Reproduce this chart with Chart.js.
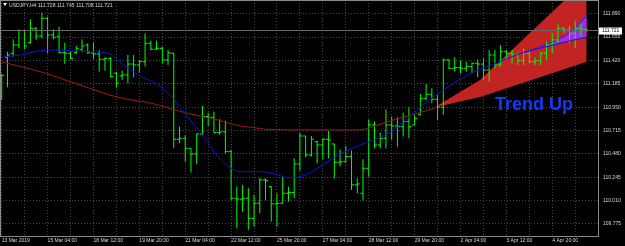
<!DOCTYPE html>
<html>
<head>
<meta charset="utf-8">
<script src="https://cdn.jsdelivr.net/npm/chart.js@4.4.1/dist/chart.umd.min.js"></script>
<style>
  html, body { margin: 0; padding: 0; background: #000; overflow: hidden; }
  canvas { display: block; }
</style>
</head>
<body>
<canvas id="chart" width="625" height="246"></canvas>
<script>
const symbol = 'USDJPY,H4';

const open = [111.056, 111.451, 111.492, 111.575, 111.720, 111.599, 111.743, 111.666, 111.844, 111.676,
  111.659, 111.498, 111.492, 111.498, 111.532, 111.575, 111.492, 111.485, 111.431, 111.441,
  111.291, 111.264, 111.274, 111.384, 111.374, 111.408, 111.592, 111.532, 111.542, 111.425,
  111.492, 110.627, 110.637, 110.536, 110.479, 110.680, 110.855, 110.848, 110.694, 110.701,
  110.503, 110.034, 110.024, 110.034, 109.832, 109.983, 110.218, 110.151, 109.977, 109.983,
  110.084, 110.091, 110.379, 110.660, 110.469, 110.603, 110.570, 110.627, 110.580, 110.396,
  110.402, 110.453, 110.168, 110.084, 110.335, 110.771, 110.570, 110.637, 110.771, 110.761,
  110.754, 110.805, 110.771, 110.872, 111.039, 111.079, 111.029, 110.949, 111.425, 111.341,
  111.348, 111.341, 111.358, 111.391, 111.384, 111.324, 111.475, 111.374, 111.508, 111.492,
  111.475, 111.418, 111.492, 111.408, 111.418, 111.492, 111.575, 111.626, 111.743, 111.726,
  111.693, 111.743, 111.728];
const high = [111.284, 111.508, 111.632, 111.733, 111.733, 111.834, 111.753, 111.901, 111.860, 111.733,
  111.760, 111.599, 111.508, 111.565, 111.632, 111.592, 111.599, 111.525, 111.451, 111.451,
  111.307, 111.317, 111.475, 111.475, 111.425, 111.693, 111.619, 111.619, 111.559, 111.525,
  111.498, 110.754, 110.670, 110.536, 110.687, 110.962, 110.895, 110.905, 110.828, 110.815,
  110.520, 110.151, 110.168, 110.134, 110.067, 110.235, 110.235, 110.151, 110.084, 110.251,
  110.151, 110.436, 110.694, 110.660, 110.660, 110.613, 110.637, 110.711, 110.580, 110.526,
  110.560, 110.513, 110.235, 110.426, 110.828, 110.805, 110.694, 110.929, 110.855, 110.848,
  110.895, 110.949, 110.872, 111.083, 111.183, 111.140, 111.073, 111.441, 111.431, 111.451,
  111.418, 111.408, 111.398, 111.431, 111.441, 111.525, 111.525, 111.575, 111.525, 111.525,
  111.498, 111.542, 111.525, 111.451, 111.508, 111.609, 111.693, 111.793, 111.753, 111.767,
  111.820, 111.793, 111.745];
const low = [111.022, 111.150, 111.458, 111.542, 111.532, 111.592, 111.626, 111.643, 111.492, 111.632,
  111.492, 111.384, 111.431, 111.485, 111.508, 111.485, 111.431, 111.307, 111.317, 111.250,
  111.150, 111.224, 111.190, 111.250, 111.297, 111.358, 111.525, 111.525, 111.391, 111.374,
  110.536, 110.587, 110.402, 110.292, 110.379, 110.670, 110.761, 110.694, 110.670, 110.479,
  110.017, 109.732, 109.899, 109.715, 109.749, 109.883, 110.017, 109.799, 109.749, 109.983,
  110.000, 110.034, 110.312, 110.446, 110.453, 110.386, 110.426, 110.436, 110.235, 110.352,
  110.392, 110.117, 110.084, 110.017, 110.251, 110.536, 110.536, 110.536, 110.620, 110.553,
  110.654, 110.637, 110.771, 110.872, 111.022, 110.989, 110.821, 110.872, 111.331, 111.307,
  111.291, 111.307, 111.291, 111.250, 111.224, 111.207, 111.341, 111.358, 111.425, 111.391,
  111.374, 111.374, 111.391, 111.374, 111.374, 111.425, 111.492, 111.592, 111.693, 111.592,
  111.542, 111.659, 111.708];
const close = [111.270, 111.475, 111.575, 111.720, 111.565, 111.743, 111.666, 111.844, 111.676, 111.653,
  111.498, 111.492, 111.441, 111.542, 111.565, 111.498, 111.485, 111.431, 111.441, 111.257,
  111.190, 111.274, 111.384, 111.374, 111.408, 111.592, 111.532, 111.542, 111.425, 111.498,
  110.627, 110.637, 110.536, 110.479, 110.680, 110.855, 110.848, 110.694, 110.701, 110.503,
  110.034, 110.024, 110.034, 109.832, 109.983, 110.218, 110.211, 109.977, 109.983, 110.084,
  110.091, 110.379, 110.660, 110.469, 110.627, 110.570, 110.627, 110.620, 110.396, 110.402,
  110.453, 110.168, 110.178, 110.335, 110.771, 110.570, 110.637, 110.771, 110.761, 110.754,
  110.805, 110.754, 110.838, 111.039, 111.079, 111.029, 110.949, 111.425, 111.341, 111.348,
  111.341, 111.358, 111.391, 111.384, 111.324, 111.475, 111.374, 111.508, 111.492, 111.475,
  111.418, 111.492, 111.408, 111.418, 111.492, 111.575, 111.626, 111.743, 111.726, 111.693,
  111.743, 111.733, 111.721];

// moving averages at bar positions
const fastMaBars = [0, 3.2, 6.7, 8.4, 11.9, 15.4, 18.9, 20.3, 23.8, 27.3, 29.0, 30.2, 31.9, 34.8, 37.7,
  40.0, 41.6, 45.3, 47.6, 49.9, 52.5, 54.6, 57.5, 59.8, 62.5, 65.6, 67.9, 70.8, 73.8, 77.2, 80.7,
  83.4, 86.5, 88.9, 92.3, 95.8, 99.3, 102];
const fastMa = [111.453, 111.475, 111.518, 111.525, 111.518, 111.508, 111.485, 111.418, 111.274, 111.173,
  111.090, 111.022, 110.889, 110.687, 110.452, 110.335, 110.301, 110.301, 110.278, 110.241, 110.258,
  110.318, 110.426, 110.502, 110.570, 110.637, 110.704, 110.838, 110.989, 111.130, 111.257, 111.331,
  111.397, 111.458, 111.520, 111.570, 111.620, 111.653];
const slowMaBars = [0, 6.7, 13.65, 20.3, 26.1, 31.9, 37.7, 41.55, 43.5, 45.9, 52.8, 62.5, 65.6, 67.9, 71.4, 75.5];
const slowMa = [111.405, 111.307, 111.173, 111.049, 110.989, 110.895, 110.821, 110.761, 110.748, 110.728,
  110.721, 110.721, 110.771, 110.814, 110.871, 110.939];

// trend fan and projection
const fanBars = [75.5, 83.4, 98.2, 102];
const fanUpper = [110.949, 111.223, 112.028, 112.235];
const fanLower = [110.949, 111.052, 111.334, 111.407];
const projBars = [91, 95.8, 99.3, 102];
const projTop = [111.500, 111.599, 111.709, 111.867];
const projBase = [111.500, 111.570, 111.620, 111.653];

const lastPrice = 111.721;
const header = [111.728, 111.745, 111.708, 111.721];
const trendText = 'Trend Up';
const trendAt = { x: 92.8, y: 110.972 };

const yTicks = [111.890, 111.655, 111.420, 111.185, 110.950, 110.715, 110.480, 110.245, 110.010, 109.775];
const gridBars = [0, 4, 8, 12, 16, 20, 24, 28, 32, 36, 40, 44, 48, 52, 56, 60, 64, 68, 72, 76, 80, 84, 88, 92, 96, 100];
const labelBars = [0, 8, 16, 24, 32, 40, 48, 56, 64, 72, 80, 88, 96];
const labelTexts = ['13 Mar 2019', '15 Mar 04:00', '18 Mar 12:00', '19 Mar 20:00', '21 Mar 04:00',
  '22 Mar 12:00', '25 Mar 20:00', '27 Mar 04:00', '28 Mar 12:00', '29 Mar 20:00', '2 Apr 04:00',
  '3 Apr 12:00', '4 Apr 20:00'];

const GRID = '#454545';
const FRAME = '#8a8a8a';
const TEXT = '#d8d8d8';
const FONT = '"Liberation Sans", Arial, sans-serif';

const xy = (xs, ys) => xs.map((x, i) => ({ x, y: ys[i] }));

const ohlcBars = {
  id: 'ohlcBars',
  afterDatasetDraw(chart, args) {
    if (args.index !== 3) return;
    const { ctx, chartArea: a, scales: { x, y } } = chart;
    ctx.save();
    ctx.beginPath();
    ctx.rect(a.left, a.top, a.width, a.height);
    ctx.clip();
    ctx.strokeStyle = '#00ff00';
    ctx.lineWidth = 1;
    ctx.beginPath();
    open.forEach((o, i) => {
      const px = x.getPixelForValue(i);
      const po = y.getPixelForValue(o);
      const pc = y.getPixelForValue(close[i]);
      ctx.moveTo(px, y.getPixelForValue(high[i]));
      ctx.lineTo(px, y.getPixelForValue(low[i]));
      ctx.moveTo(px - 2.5, po);
      ctx.lineTo(px, po);
      ctx.moveTo(px, pc);
      ctx.lineTo(px + 2.5, pc);
    });
    ctx.stroke();
    ctx.restore();
  },
};

const decorations = {
  id: 'decorations',
  afterDatasetsDraw(chart) {
    const { ctx, scales: { x, y } } = chart;
    ctx.save();
    ctx.fillStyle = '#1438ff';
    ctx.font = `bold 18px ${FONT}`;
    ctx.textAlign = 'center';
    ctx.textBaseline = 'middle';
    ctx.fillText(trendText, x.getPixelForValue(trendAt.x), y.getPixelForValue(trendAt.y));
    ctx.restore();
  },
  afterDraw(chart) {
    const { ctx, chartArea: a, scales: { y } } = chart;
    ctx.save();
    ctx.strokeStyle = FRAME;
    ctx.lineWidth = 1;
    ctx.strokeRect(a.left + 0.5, a.top + 0.5, a.width - 1, a.height);

    const py = Math.round(y.getPixelForValue(lastPrice));
    ctx.fillStyle = '#fff';
    ctx.fillRect(a.right, py - 3.5, 23, 7);
    ctx.fillStyle = '#000';
    ctx.font = `5px ${FONT}`;
    ctx.textBaseline = 'middle';
    ctx.fillText(lastPrice.toFixed(3), a.right + 3, py);

    ctx.fillStyle = '#fff';
    ctx.beginPath();
    ctx.moveTo(3, 3);
    ctx.lineTo(7, 3);
    ctx.lineTo(5, 6);
    ctx.closePath();
    ctx.fill();
    ctx.translate(9, 5);
    ctx.scale(0.85, 1);
    ctx.fillStyle = TEXT;
    ctx.font = `6px ${FONT}`;
    ctx.fillText([symbol, ...header.map(v => v.toFixed(3))].join(' '), 0, 0);
    ctx.restore();
  },
};

new Chart(document.getElementById('chart'), {
  type: 'line',
  data: {
    datasets: [
      { data: xy(fanBars, fanLower), borderWidth: 0, backgroundColor: '#c22424', fill: false, order: 7 },
      { data: xy(fanBars, fanUpper), borderWidth: 0, backgroundColor: '#c22424', fill: '-1', order: 6 },
      { data: xy(projBars, projBase), borderWidth: 0, fill: false, order: 5 },
      { data: xy(projBars, projTop), borderColor: '#1a1aff', borderWidth: 1, backgroundColor: '#a428e6',
        fill: '-1', cubicInterpolationMode: 'monotone', order: 4 },
      { data: [{ x: -1, y: lastPrice }, { x: 105, y: lastPrice }], borderColor: '#6a6a6a', borderWidth: 1, order: 3 },
      { data: xy(slowMaBars, slowMa), borderColor: '#9a1c1c', borderWidth: 1,
        cubicInterpolationMode: 'monotone', order: 2 },
      { data: xy(fastMaBars, fastMa), borderColor: '#1010e0', borderWidth: 1,
        cubicInterpolationMode: 'monotone', order: 1 },
    ],
  },
  options: {
    responsive: false,
    animation: false,
    devicePixelRatio: 1,
    layout: { padding: 0 },
    elements: { point: { radius: 0 } },
    plugins: { legend: { display: false }, tooltip: { enabled: false } },
    scales: {
      x: {
        type: 'linear',
        min: -0.3,
        max: 104.15,
        grid: { color: GRID, drawTicks: false },
        border: { display: false, dash: [1, 2] },
        afterBuildTicks: s => { s.ticks = gridBars.map(value => ({ value })); },
        afterFit: s => { s.height = 10; s.paddingLeft = 0; s.paddingRight = 0; },
        ticks: {
          autoSkip: false,
          maxRotation: 0,
          align: 'start',
          padding: 2,
          color: TEXT,
          font: { family: FONT, size: 5 },
          callback: v => {
            const k = labelBars.indexOf(v);
            return k < 0 ? '' : labelTexts[k];
          },
        },
      },
      y: {
        type: 'linear',
        position: 'right',
        min: 109.654,
        max: 112.028,
        grid: { color: GRID, drawTicks: false },
        border: { display: false, dash: [1, 2] },
        afterBuildTicks: s => { s.ticks = yTicks.map(value => ({ value })); },
        afterFit: s => { s.width = 26; s.paddingTop = 0; s.paddingBottom = 0; },
        ticks: {
          padding: 4,
          color: TEXT,
          font: { family: FONT, size: 5 },
          callback: v => v.toFixed(3),
        },
      },
    },
  },
  plugins: [ohlcBars, decorations],
});
</script>
</body>
</html>
